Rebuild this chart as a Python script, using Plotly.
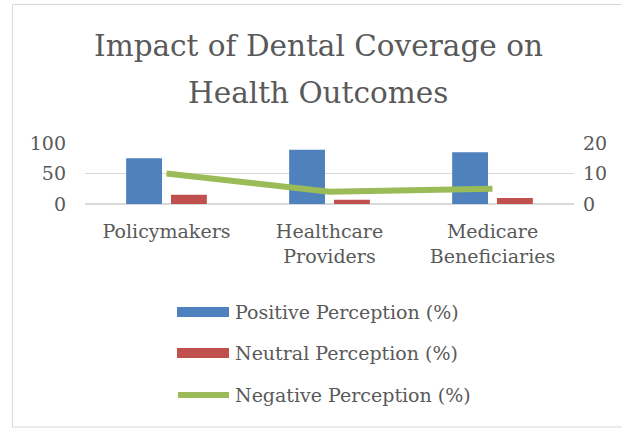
import plotly.graph_objects as go

title_lines = ["Impact of Dental Coverage on", "Health Outcomes"]
categories = ["Policymakers", "Healthcare<br>Providers", "Medicare<br>Beneficiaries"]
positive = [75, 89, 85]
neutral = [15, 7, 10]
negative = [10, 4, 5]
series_names = ["Positive Perception (%)", "Neutral Perception (%)", "Negative Perception (%)"]
colors = ["#4F81BD", "#C0504D", "#9BBB59"]

W, H = 622, 428
L, R, T, B = 85, 48, 143, 224
PW, PH = W - L - R, H - T - B
FONT = "DejaVu Serif"
TXT = "#595959"
FS = 19


def px(x):
    return (x - L) / PW


def py(y):
    return (H - B - y) / PH


fig = go.Figure()
fig.add_trace(go.Bar(x=categories, y=positive, name=series_names[0], marker_color=colors[0],
                     marker_line_width=0, yaxis="y", showlegend=False))
fig.add_trace(go.Bar(x=categories, y=neutral, name=series_names[1], marker_color=colors[1],
                     marker_line_width=0, yaxis="y", showlegend=False))
fig.add_trace(go.Scatter(x=categories, y=negative, name=series_names[2], mode="lines",
                         line=dict(color=colors[2], width=6), yaxis="y2", showlegend=False))

shapes = [
    dict(type="rect", xref="paper", yref="paper", x0=px(12.5), x1=px(640), y0=py(427), y1=py(4.5),
         line=dict(color="#D9D9D9", width=1), fillcolor="rgba(0,0,0,0)", layer="below"),
]
annotations = []
for line, yc in zip(title_lines, [46, 93]):
    annotations.append(dict(text=line, xref="paper", yref="paper", x=px(318), y=py(yc),
                            xanchor="center", yanchor="middle", showarrow=False,
                            font=dict(family=FONT, size=29.5, color=TXT)))
leg_y = [312, 353, 395]
for i, name in enumerate(series_names):
    yc = leg_y[i]
    if i < 2:
        shapes.append(dict(type="rect", xref="paper", yref="paper", x0=px(177), x1=px(229),
                           y0=py(yc + 5), y1=py(yc - 5), line=dict(width=0), fillcolor=colors[i]))
    else:
        shapes.append(dict(type="line", xref="paper", yref="paper", x0=px(178), x1=px(229),
                           y0=py(yc), y1=py(yc), line=dict(color=colors[i], width=6)))
    annotations.append(dict(text=name, xref="paper", yref="paper", x=px(233), y=py(yc),
                            xanchor="left", yanchor="middle", showarrow=False,
                            font=dict(family=FONT, size=FS, color=TXT)))

fig.update_layout(
    width=W, height=H,
    margin=dict(l=L, r=R, t=T, b=B, pad=0),
    paper_bgcolor="white", plot_bgcolor="white",
    font=dict(family=FONT, size=FS, color=TXT),
    barmode="group", bargap=0.45, bargroupgap=0.2,
    xaxis=dict(showgrid=False, showline=False, ticks="", ticklabelstandoff=14,
               tickfont=dict(family=FONT, size=FS, color=TXT)),
    yaxis=dict(range=[0, 100], dtick=50, showgrid=True, gridcolor="#D9D9D9", gridwidth=1,
               zeroline=True, zerolinecolor="#D9D9D9", showline=False, ticks="",
               ticklabelstandoff=18, tickfont=dict(family=FONT, size=FS, color=TXT)),
    yaxis2=dict(range=[0, 20], dtick=10, overlaying="y", side="right", showgrid=False,
                zeroline=False, showline=False, ticks="", ticklabelstandoff=8,
                tickfont=dict(family=FONT, size=FS, color=TXT)),
    shapes=shapes, annotations=annotations, showlegend=False,
)

fig.write_html("out.html")
